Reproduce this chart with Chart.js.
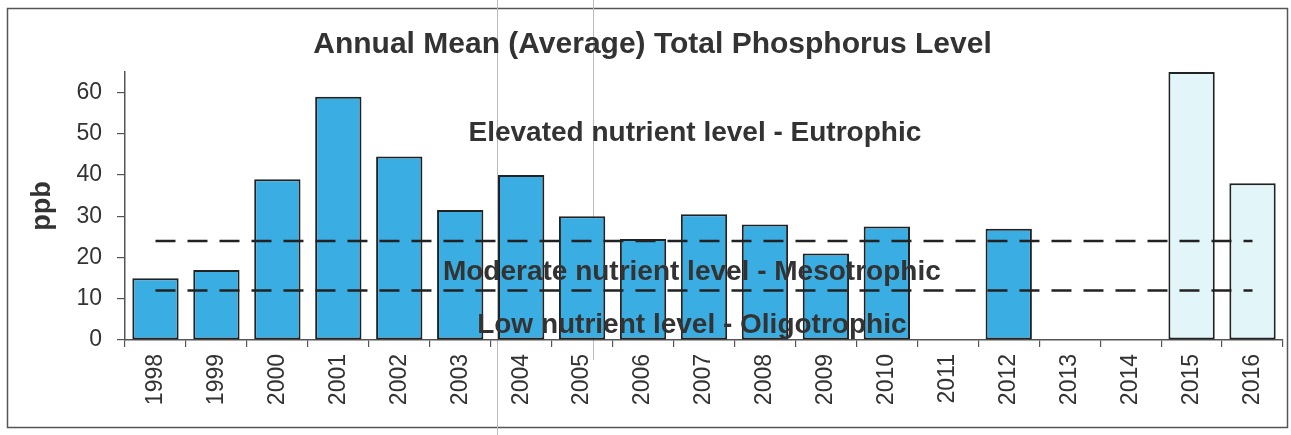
<!DOCTYPE html>
<html>
<head>
<meta charset="utf-8">
<script src="https://cdn.jsdelivr.net/npm/chart.js@4/dist/chart.umd.min.js"></script>
<style>
  html, body { margin: 0; padding: 0; background: #fff; }
  #wrap { position: relative; width: 1291px; height: 435px; }
  canvas { display: block; }
</style>
</head>
<body>
<div id="wrap"><canvas id="c" width="1291" height="435"></canvas></div>
<script>
// ---- data ----
const years = ['1998','1999','2000','2001','2002','2003','2004','2005','2006','2007','2008','2009','2010','2011','2012','2013','2014','2015','2016'];
const phosphorus = [15, 17, 39, 59, 44.5, 31.5, 40, 30, 24.5, 30.5, 28, 21, 27.5, null, 27, null, null, 65, 38];
const eutrophicThreshold = [24, 24, 24, 24, 24, 24, 24, 24, 24, 24, 24, 24, 24, 24, 24, 24, 24, 24, 24];
const oligotrophicThreshold = [12, 12, 12, 12, 12, 12, 12, 12, 12, 12, 12, 12, 12, 12, 12, 12, 12, 12, 12];
const lightYears = ['2015', '2016'];
const zoneLabels = ['Elevated nutrient level - Eutrophic', 'Moderate nutrient level - Mesotrophic', 'Low nutrient level - Oligotrophic'];
const zoneLabelY = [50.2, 16.5, 3.6];
const zoneLabelX = [8.85, 8.8, 8.8];
const yTicksMax = 65;

const FONT = "'Liberation Sans', Arial, sans-serif";

const zonePlugin = {
  id: 'zones',
  afterDatasetsDraw(chart) {
    const {ctx, scales: {x, y}} = chart;
    ctx.save();
    ctx.font = 'bold 28px ' + FONT;
    ctx.fillStyle = '#333';
    ctx.textAlign = 'center';
    ctx.textBaseline = 'middle';
    zoneLabels.forEach((t, i) => {
      ctx.fillText(t, x.getPixelForValue(zoneLabelX[i]), y.getPixelForValue(zoneLabelY[i]));
    });
    ctx.restore();
  }
};

const framePlugin = {
  id: 'frame',
  beforeDraw(chart) {
    const ctx = chart.ctx;
    ctx.save();
    ctx.fillStyle = '#fff';
    ctx.fillRect(0, 0, chart.width, chart.height);
    ctx.strokeStyle = '#555';
    ctx.lineWidth = 1.5;
    ctx.strokeRect(7.5, 8.5, 1280, 419);
    ctx.strokeStyle = '#bbb';
    ctx.lineWidth = 1;
    ctx.beginPath();
    ctx.moveTo(497.5, 0); ctx.lineTo(497.5, 435);
    ctx.moveTo(593.5, 0); ctx.lineTo(593.5, 360);
    ctx.stroke();
    ctx.restore();
  }
};

new Chart(document.getElementById('c'), {
  type: 'bar',
  data: {
    labels: years,
    datasets: [
      {
        type: 'line',
        data: eutrophicThreshold,
        borderColor: '#222',
        borderWidth: 2.5,
        borderDash: [20, 12],
        pointRadius: 0,
        fill: false,
        order: 0
      },
      {
        type: 'line',
        data: oligotrophicThreshold,
        borderColor: '#222',
        borderWidth: 2.5,
        borderDash: [20, 12],
        pointRadius: 0,
        fill: false,
        order: 0
      },
      {
        data: phosphorus,
        backgroundColor: ctx => lightYears.includes(years[ctx.dataIndex]) ? '#e2f6fa' : '#3aade2',
        borderColor: '#222',
        borderWidth: 2,
        borderSkipped: false,
        barPercentage: 0.76,
        categoryPercentage: 1,
        order: 1
      }
    ]
  },
  options: {
    responsive: false,
    animation: false,
    devicePixelRatio: 1,
    layout: { padding: { left: 22, right: 8, top: 10, bottom: 0 } },
    plugins: {
      legend: { display: false },
      tooltip: { enabled: false },
      title: {
        display: true,
        text: 'Annual Mean (Average) Total Phosphorus Level',
        color: '#333',
        font: { family: FONT, size: 30, weight: 'bold' },
        padding: { top: 17, bottom: 9 }
      }
    },
    scales: {
      x: {
        offset: true,
        grid: { drawOnChartArea: false, offset: true, tickLength: 7, color: '#555', lineWidth: 1.2 },
        border: { display: true, color: '#555', width: 1.5 },
        ticks: {
          color: '#333',
          font: { family: FONT, size: 23 },
          minRotation: 90, maxRotation: 90,
          padding: 7,
          autoSkip: false
        },
        afterFit(scale) { scale.height = 95; }
      },
      y: {
        min: 0,
        max: yTicksMax,
        grid: { drawOnChartArea: false, tickLength: 8, color: '#555', lineWidth: 1.2 },
        border: { display: true, color: '#555', width: 1.5 },
        ticks: {
          stepSize: 5,
          color: '#333',
          font: { family: FONT, size: 23 },
          padding: 15,
          callback: v => (v % 10 === 0 ? v : '')
        },
        title: {
          display: true,
          text: 'ppb',
          color: '#333',
          font: { family: FONT, size: 27, weight: 'bold' }
        },
        afterFit(scale) { scale.width = 103; }
      }
    }
  },
  plugins: [framePlugin, zonePlugin]
});
</script>
</body>
</html>
